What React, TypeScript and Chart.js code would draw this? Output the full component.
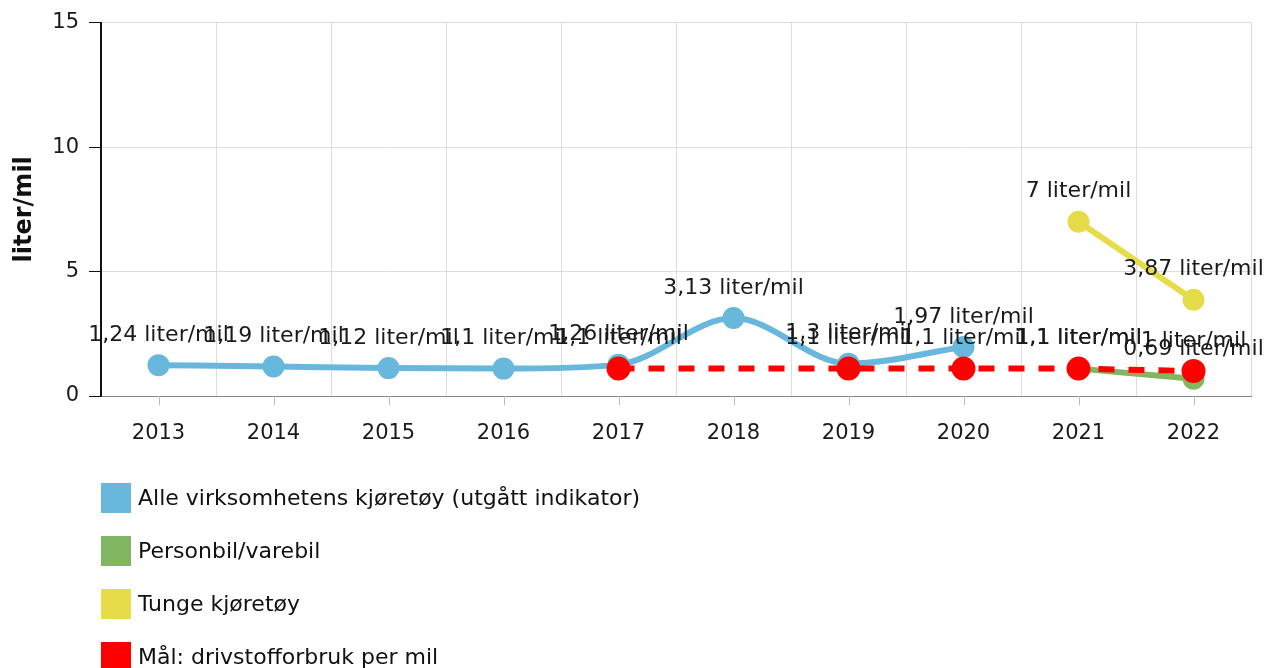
import React, { useEffect, useRef } from "react";
import { Chart, registerables } from "chart.js";

Chart.register(...registerables);

const years = ["2013", "2014", "2015", "2016", "2017", "2018", "2019", "2020", "2021", "2022"];
const alleKjoretoy = [1.24, 1.19, 1.12, 1.1, 1.26, 3.13, 1.3, 1.97, null, null];
const personbil = [null, null, null, null, null, null, null, null, 1.1, 0.69];
const tunge = [null, null, null, null, null, null, null, null, 7, 3.87];
const maal = [null, null, null, null, 1.1, null, 1.1, 1.1, 1.1, 1.0];
const yTicks = [0, 5, 10, 15];

const seriesNames = [
  "Alle virksomhetens kjøretøy (utgått indikator)",
  "Personbil/varebil",
  "Tunge kjøretøy",
  "Mål: drivstofforbruk per mil",
];
const colors = ["#68b8de", "#82b761", "#e6dc4a", "#ff0000"];

const FONT = "'DejaVu Sans', Verdana, sans-serif";

const fmt = (v: number) => String(v).replace(".", ",") + " liter/mil";

const labelsPlugin = {
  id: "pointLabels",
  afterDatasetsDraw(chart: any) {
    const ctx = chart.ctx;
    ctx.save();
    ctx.font = `22px ${FONT}`;
    ctx.fillStyle = "#1a1a1a";
    ctx.textAlign = "center";
    ctx.textBaseline = "middle";
    chart.data.datasets.forEach((ds: any, i: number) => {
      const meta = chart.getDatasetMeta(i);
      meta.data.forEach((pt: any, j: number) => {
        const v = ds.data[j];
        if (v === null || v === undefined) return;
        ctx.fillText(fmt(v), pt.x, pt.y - 30);
      });
    });
    ctx.restore();
  },
};

const decorPlugin = {
  id: "decor",
  afterDraw(chart: any) {
    const ctx = chart.ctx;
    const area = chart.chartArea;
    const xs = chart.scales.x;
    ctx.save();
    ctx.strokeStyle = "#bbb";
    ctx.lineWidth = 1;
    years.forEach((_, i) => {
      const x = Math.round(xs.getPixelForValue(i)) + 0.5;
      ctx.beginPath();
      ctx.moveTo(x, area.bottom);
      ctx.lineTo(x, area.bottom + 9);
      ctx.stroke();
    });
    ctx.font = `22px ${FONT}`;
    ctx.textBaseline = "middle";
    ctx.textAlign = "left";
    seriesNames.forEach((name, i) => {
      const cy = 498 + i * 53;
      ctx.fillStyle = colors[i];
      ctx.fillRect(101, cy - 15, 30, 30);
      ctx.fillStyle = "#111";
      ctx.fillText(name, 138, cy + 1);
    });
    ctx.restore();
  },
};

export default function App() {
  const ref = useRef<HTMLCanvasElement>(null);
  useEffect(() => {
    if (!ref.current) return;
    const chart = new Chart(ref.current, {
      type: "line",
      data: {
        labels: years,
        datasets: [
          {
            label: seriesNames[0],
            data: alleKjoretoy,
            borderColor: colors[0],
            backgroundColor: colors[0],
            borderWidth: 6,
            pointRadius: 8,
            pointHoverRadius: 8,
            cubicInterpolationMode: "monotone",
            spanGaps: false,
            order: 3,
          },
          {
            label: seriesNames[1],
            data: personbil,
            borderColor: colors[1],
            backgroundColor: colors[1],
            borderWidth: 6,
            pointRadius: 8,
            tension: 0,
            order: 2,
          },
          {
            label: seriesNames[2],
            data: tunge,
            borderColor: colors[2],
            backgroundColor: colors[2],
            borderWidth: 6,
            pointRadius: 8,
            tension: 0,
            order: 1,
          },
          {
            label: seriesNames[3],
            data: maal,
            borderColor: colors[3],
            backgroundColor: colors[3],
            borderWidth: 6,
            borderDash: [16, 14],
            pointRadius: 9,
            tension: 0,
            spanGaps: true,
            order: 0,
          },
        ],
      } as any,
      options: {
        animation: false,
        responsive: false,
        maintainAspectRatio: false,
        layout: { padding: { left: 0, right: 28, top: 20, bottom: 212 } },
        plugins: {
          legend: { display: false },
          tooltip: { enabled: false },
        },
        scales: {
          x: {
            offset: true,
            grid: { color: "#dcdcdc", offset: true, drawTicks: false },
            border: { color: "#888", width: 1 },
            ticks: { font: { family: FONT, size: 21 }, color: "#1a1a1a", padding: 25 },
            afterFit: (s: any) => { s.height = 60; },
          },
          y: {
            min: 0,
            max: 15,
            afterBuildTicks: (s: any) => { s.ticks = yTicks.map((v) => ({ value: v })); },
            grid: { color: "#dcdcdc", tickLength: 12, tickColor: "#111" },
            border: { color: "#111", width: 2 },
            ticks: { font: { family: FONT, size: 21 }, color: "#1a1a1a", padding: 10 },
            title: {
              display: true,
              text: "liter/mil",
              font: { family: FONT, size: 24, weight: "bold" },
              color: "#111",
              padding: { top: 10, bottom: 0 },
            },
            afterFit: (s: any) => { s.width = 101; },
          },
        },
      } as any,
      plugins: [labelsPlugin, decorPlugin],
    });
    return () => chart.destroy();
  }, []);
  return (
    <div style={{ position: "fixed", left: 0, top: 0, width: 1279, height: 668, background: "#fff" }}>
      <canvas ref={ref} width={1279} height={668} style={{ width: 1279, height: 668 }} />
    </div>
  );
}
